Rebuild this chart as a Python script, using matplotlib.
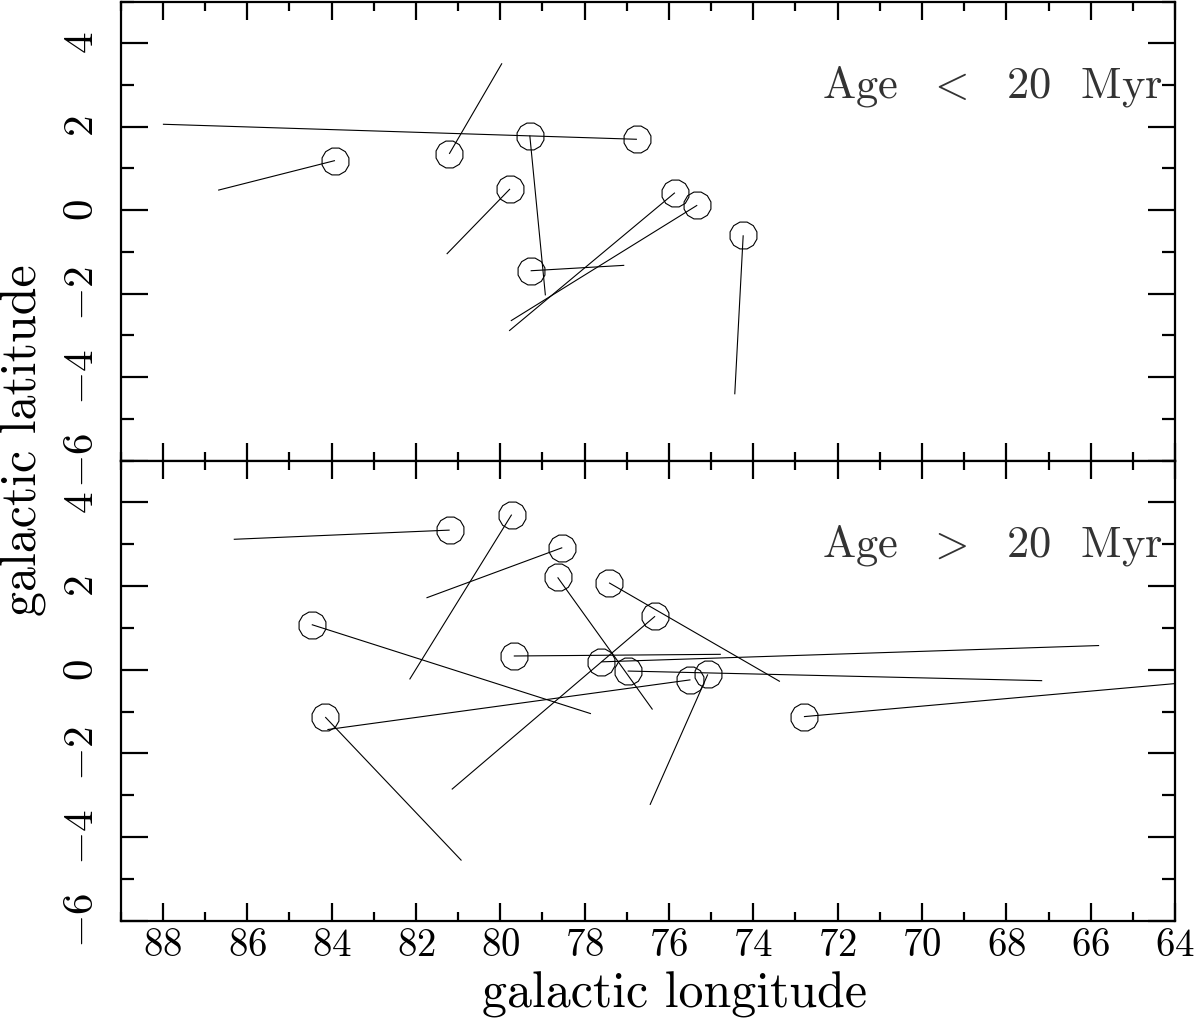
import matplotlib
matplotlib.use("Agg")
import matplotlib.pyplot as plt
from matplotlib.ticker import MultipleLocator

plt.rcParams['font.family'] = ['cmr10', 'DejaVu Serif']
plt.rcParams['mathtext.fontset'] = 'cm'
plt.rcParams['axes.formatter.use_mathtext'] = True
plt.rcParams['axes.unicode_minus'] = True

# ---- data: Age < 20 Myr (circle position and end point of motion line)
young_l = [83.92, 81.21, 79.30, 76.76, 79.77, 75.86, 75.33, 79.28, 74.24]
young_b = [1.19, 1.35, 1.79, 1.70, 0.51, 0.42, 0.12, -1.45, -0.60]
young_l_end = [86.69, 79.96, 78.93, 88.00, 81.27, 79.79, 79.75, 77.06, 74.44]
young_b_end = [0.48, 3.52, -2.04, 2.06, -1.05, -2.89, -2.65, -1.32, -4.41]

# ---- data: Age > 20 Myr
old_l = [81.20, 79.73, 78.53, 78.64, 77.42, 76.33, 84.47, 79.68, 77.60,
         76.98, 75.49, 75.08, 84.15, 72.80]
old_b = [3.34, 3.71, 2.92, 2.21, 2.08, 1.28, 1.08, 0.33, 0.19,
         -0.03, -0.24, -0.11, -1.13, -1.12]
old_l_end = [86.32, 82.15, 81.75, 76.39, 73.37, 81.15, 77.85, 74.77, 65.80,
             67.15, 84.10, 76.45, 80.92, 64.00]
old_b_end = [3.12, -0.23, 1.72, -0.95, -0.28, -2.86, -1.05, 0.37, 0.58,
             -0.26, -1.43, -3.23, -4.56, -0.33]

panel_labels = [r'Age  $<$  20  Myr', r'Age  $>$  20  Myr']
x_ticks = list(range(88, 63, -2))
y_ticks = [-6, -4, -2, 0, 2, 4]

fig = plt.figure(figsize=(12, 10.26), dpi=100)
left, width = 0.1006, 0.8786
ax_top = fig.add_axes([left, 0.551, width, 0.4475])
ax_bot = fig.add_axes([left, 0.1026, width, 0.4484], sharex=ax_top)

datasets = [(ax_top, young_l, young_b, young_l_end, young_b_end, panel_labels[0]),
            (ax_bot, old_l, old_b, old_l_end, old_b_end, panel_labels[1])]

for ax, l, b, le, be, lab in datasets:
    for l0, b0, l1, b1 in zip(l, b, le, be):
        ax.plot([l0, l1], [b0, b1], color='black', lw=0.8, solid_capstyle='butt')
    ax.plot(l, b, linestyle='none', marker=(12, 0, 15), markersize=20,
            markerfacecolor='none', markeredgecolor='black', markeredgewidth=0.8)
    ax.set_ylim(-6, 5)
    ax.set_yticks(y_ticks)
    ax.yaxis.set_minor_locator(MultipleLocator(1))
    ax.xaxis.set_minor_locator(MultipleLocator(1))
    for s in ax.spines.values():
        s.set_linewidth(1.6)
    ax.tick_params(axis='both', which='both', direction='in', top=True, right=True,
                   width=1.6, color='black')
    ax.tick_params(axis='x', which='major', length=13)
    ax.tick_params(axis='x', which='minor', length=6.5)
    ax.tick_params(axis='y', which='major', length=19.5, labelsize=31, pad=14,
                   labelrotation=90)
    ax.tick_params(axis='y', which='minor', length=9.7)
    for t in ax.get_yticklabels():
        t.set_verticalalignment('center')
    ax.text(0.9886, 0.792, lab, transform=ax.transAxes, ha='right', va='baseline',
            fontsize=32, color='#333333')

ax_top.set_xlim(89, 64)
ax_top.set_xticks(x_ticks)
ax_top.tick_params(axis='x', labelbottom=False)
ax_bot.tick_params(axis='x', which='major', labelsize=28, pad=5)

fig.text(0.562, 0.0185, 'galactic longitude', ha='center', va='baseline', fontsize=36)
fig.text(0.0308, 0.571, 'galactic latitude', rotation=90, rotation_mode='anchor',
         ha='center', va='baseline', fontsize=36)

fig.savefig('out.png', dpi=100)
